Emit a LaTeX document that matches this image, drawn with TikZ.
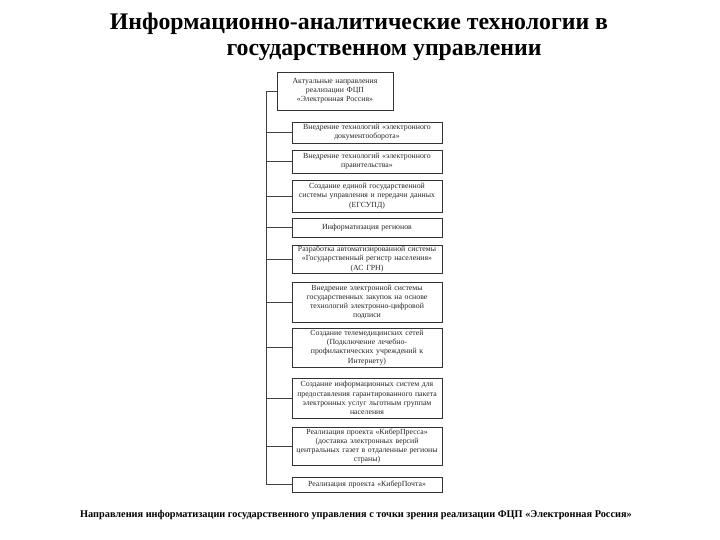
\documentclass[tikz,border=0pt]{standalone}
\usepackage{fontspec}
\setmainfont{Liberation Serif}
\begin{document}
\begin{tikzpicture}[x=1pt,y=-1pt,
  box/.style={draw=black!80,line width=0.7pt,inner sep=0.5pt,align=center,
    font=\fontsize{7.8}{9.2}\selectfont,text=black!85},
  cbox/.style={box,minimum width=150pt,text width=148pt},
  conn/.style={draw=black!75,line width=0.8pt}]
\useasboundingbox (0,0) rectangle (720,540);
\node[font=\fontsize{23.8}{26}\bfseries\selectfont] (t1) at (359,24) {Информационно-аналитические технологии в};
\node[font=\fontsize{23.8}{26}\bfseries\selectfont] (t2) at (384,52) {государственном управлении};
\node[box,minimum width=116pt,text width=114pt,minimum height=38pt] (top) at (335,91) {Актуальные направления\\ реализации ФЦП\\ «Электронная Россия»};
\node[cbox,minimum height=21pt] (c1) at (367,132.5) {Внедрение технологий «электронного\\ документооборота»};
\node[cbox,minimum height=23pt] (c2) at (367,161.5) {Внедрение технологий «электронного\\ правительства»};
\node[cbox,minimum height=32pt] (c3) at (367,196) {Создание единой государственной\\ системы управления и передачи данных\\ (ЕГСУПД)};
\node[cbox,minimum height=19pt] (c4) at (367,227.5) {Информатизация регионов};
\node[cbox,minimum height=28pt] (c5) at (367,259) {Разработка автоматизированной системы\\ «Государственный регистр населения»\\ (АС ГРН)};
\node[cbox,minimum height=40pt] (c6) at (367,302) {Внедрение электронной системы\\ государственных закупок на основе\\ технологий электронно-цифровой\\ подписи};
\node[cbox,minimum height=39pt] (c7) at (367,347.5) {Создание телемедицинских сетей\\ (Подключение лечебно-\\ профилактических учреждений к\\ Интернету)};
\node[cbox,minimum height=40pt] (c8) at (367,398) {Создание информационных систем для\\ предоставления гарантированного пакета\\ электронных услуг льготным группам\\ населения};
\node[cbox,minimum height=38pt] (c9) at (367,446) {Реализация проекта «КиберПресса»\\ (доставка электронных версий\\ центральных газет в отдаленные регионы\\ страны)};
\node[cbox,minimum height=15pt] (c10) at (367,484.5) {Реализация проекта «КиберПочта»};
\coordinate (sp) at (266,0);
\draw[conn] (top.west) -| (c10.west -| sp) -- (c10.west);
\foreach \i in {1,...,9} \draw[conn] (c\i.west) -- (c\i.west -| sp);
\node[font=\fontsize{10.3}{12}\bfseries\selectfont] (cap) at (356,515) {Направления информатизации государственного управления с точки зрения реализации ФЦП «Электронная Россия»};
\end{tikzpicture}
\end{document}
